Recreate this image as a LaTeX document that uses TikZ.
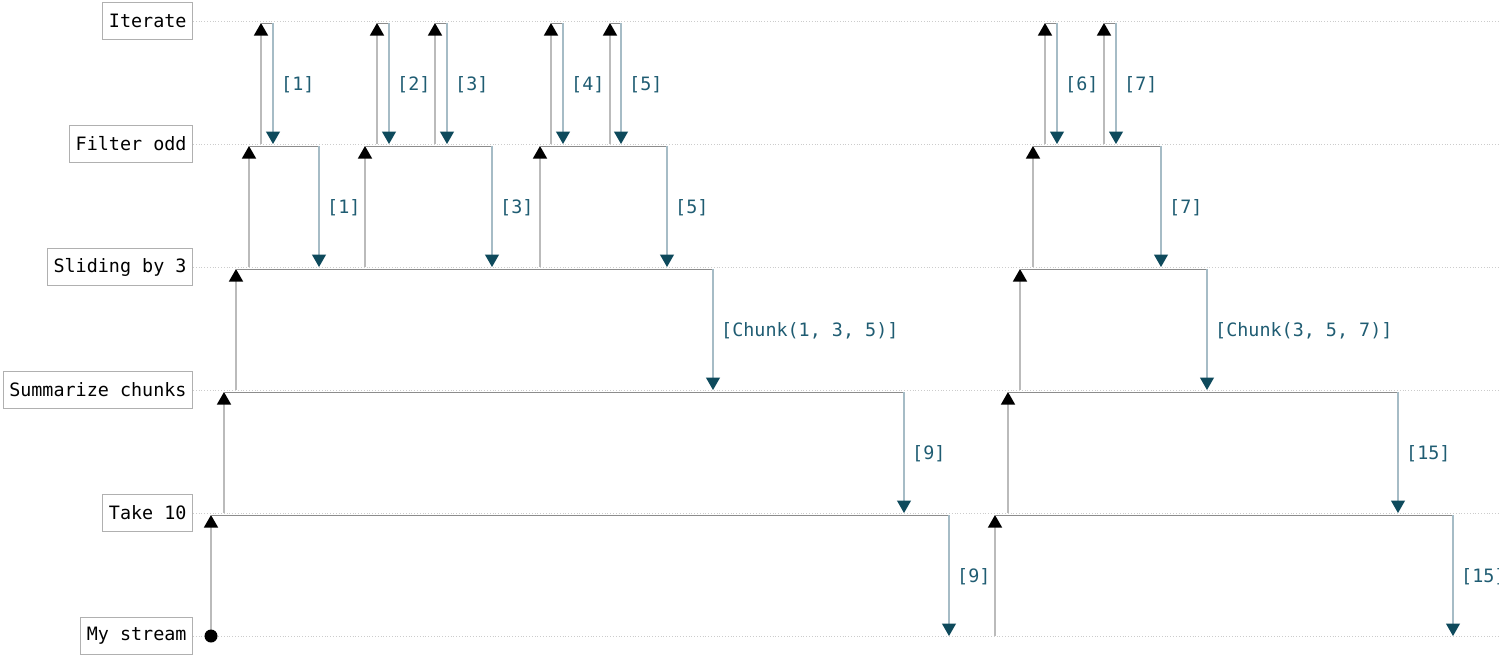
\documentclass[tikz,border=0pt]{standalone}
\usepackage{fontspec}
\setmonofont{DejaVu Sans Mono}
\usetikzlibrary{arrows.meta}
\definecolor{upgray}{HTML}{BBBBBB}
\definecolor{bargray}{HTML}{8C8C8C}
\definecolor{resline}{HTML}{A6BCC6}
\definecolor{teal}{HTML}{0E4A5C}
\definecolor{labteal}{HTML}{1F5C72}
\definecolor{boxgray}{HTML}{B0B0B0}
\definecolor{gridgray}{HTML}{CCCCCC}
\tikzset{
  rowlabel/.style={draw=boxgray, line width=1pt, fill=white, anchor=east, minimum height=37pt, inner xsep=6pt, font=\ttfamily\fontsize{18.4}{21}\selectfont, text=black},
  gridline/.style={gridgray, dotted, line width=0.8pt},
  upline/.style={upgray, line width=1.3pt, -{Triangle[width=14pt,length=12.5pt,color=black]}},
  barline/.style={bargray, line width=1pt},
  resarrow/.style={resline, line width=1.2pt, -{Triangle[width=14pt,length=12.5pt,color=teal]}},
  reslabel/.style={anchor=west, text=labteal, font=\ttfamily\fontsize{18.4}{21}\selectfont, inner sep=0pt},
}
% #1 name, #2 x request, #3 x response, #4 y upper row, #5 y lower row, #6 label
\newcommand\reqres[6]{%
  \coordinate (#1-a) at (#2,#5);
  \coordinate (#1-b) at (#2,#4+2);
  \coordinate (#1-c) at (#3,#4+2);
  \coordinate (#1-d) at (#3,#5);
  \draw[upline] (#1-a) -- (#1-b);
  \draw[barline] (#1-b) -- (#1-c);
  \draw[resarrow] (#1-c) -- (#1-d);
  \node[reslabel] (#1-l) at (#3+8,{(#4+#5)/2+2}) {#6};
}
\begin{document}
\begin{tikzpicture}[x=1pt,y=-1pt]
\useasboundingbox (0,0) rectangle (1499,654);
% rows
\node[rowlabel] (it) at (193,21) {Iterate};
\node[rowlabel] (fo) at (193,144) {Filter odd};
\node[rowlabel] (sl) at (193,267) {Sliding by 3};
\node[rowlabel] (su) at (193,390) {Summarize chunks};
\node[rowlabel] (tk) at (193,513) {Take 10};
\node[rowlabel] (ms) at (193,636) {My stream};
\coordinate (itE) at (1499,21);
\coordinate (foE) at (1499,144);
\coordinate (slE) at (1499,267);
\coordinate (suE) at (1499,390);
\coordinate (tkE) at (1499,513);
\coordinate (msE) at (1499,636);
\foreach \r in {it,fo,sl,su,tk,ms} {\draw[gridline] (\r.east) -- (\r E);}
% My stream -> Take 10
\reqres{s1}{211}{949}{513}{636}{[9]}
\reqres{s2}{995}{1453}{513}{636}{[15]}
\fill (s1-a) circle (6.5pt);
% Take 10 -> Summarize chunks
\reqres{t1}{224}{904}{390}{513}{[9]}
\reqres{t2}{1008}{1398}{390}{513}{[15]}
% Summarize -> Sliding
\reqres{u1}{236}{713}{267}{390}{[Chunk(1, 3, 5)]}
\reqres{u2}{1020}{1207}{267}{390}{[Chunk(3, 5, 7)]}
% Sliding -> Filter odd
\reqres{f1}{249}{319}{144}{267}{[1]}
\reqres{f2}{365}{492}{144}{267}{[3]}
\reqres{f3}{540}{667}{144}{267}{[5]}
\reqres{f4}{1033}{1161}{144}{267}{[7]}
% Filter odd -> Iterate
\reqres{i1}{261}{273}{21}{144}{[1]}
\reqres{i2}{377}{389}{21}{144}{[2]}
\reqres{i3}{435}{447}{21}{144}{[3]}
\reqres{i4}{551}{563}{21}{144}{[4]}
\reqres{i5}{610}{621}{21}{144}{[5]}
\reqres{i6}{1045}{1057}{21}{144}{[6]}
\reqres{i7}{1104}{1116}{21}{144}{[7]}
\end{tikzpicture}
\end{document}
